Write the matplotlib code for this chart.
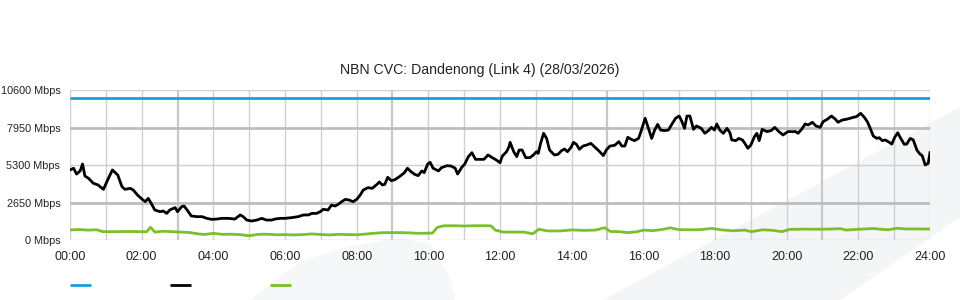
import matplotlib
matplotlib.use("Agg")
import matplotlib.pyplot as plt
from matplotlib.lines import Line2D
from matplotlib.patches import Polygon
import numpy as np

plt.rcParams['font.family'] = ['Liberation Sans', 'DejaVu Sans']

title = "NBN CVC: Dandenong (Link 4) (28/03/2026)"
capacity_mbps = 10000
y_ticks = [0, 2650, 5300, 7950, 10600]
x_tick_hours = list(range(0, 25, 2))
x_tick_labels = ["%02d:00" % h for h in x_tick_hours]

# Traffic (black) - minutes since midnight, Mbps
traffic_min = [0, 6, 11, 17, 21, 25, 31, 39, 47, 56, 63, 71, 80, 87, 92, 101, 106, 113, 121, 126,
               131, 136, 142, 151, 156, 162, 167, 176, 180, 187, 191, 197, 203, 212, 221, 229, 237, 246, 254, 265,
               276, 285, 290, 296, 304, 313, 321, 329, 338, 343, 352, 360, 371, 382, 391, 399, 405, 413, 419, 424,
               432, 438, 444, 449, 455, 461, 467, 474, 480, 486, 491, 499, 506, 514, 518, 523, 527, 532, 538, 544,
               553, 560, 565, 571, 577, 583, 589, 593, 599, 603, 608, 617, 622, 631, 638, 645, 649, 656, 661, 667,
               673, 679, 686, 693, 700, 707, 714, 720, 724, 731, 735, 737, 743, 748, 752, 757, 763, 770, 776, 781,
               784, 788, 793, 798, 803, 811, 817, 823, 828, 833, 839, 843, 848, 853, 859, 865, 872, 879, 887, 893,
               898, 904, 912, 919, 924, 929, 934, 940, 945, 952, 956, 963, 968, 974, 979, 984, 989, 995, 1002, 1007,
               1014, 1020, 1024, 1029, 1033, 1038, 1044, 1049, 1057, 1063, 1069, 1074, 1079, 1083, 1088, 1094, 1100, 1105, 1108, 1115,
               1120, 1126, 1130, 1135, 1140, 1146, 1150, 1154, 1159, 1167, 1174, 1180, 1187, 1194, 1202, 1208, 1215, 1219, 1225, 1231,
               1236, 1243, 1249, 1256, 1261, 1268, 1275, 1281, 1286, 1293, 1300, 1306, 1312, 1317, 1324, 1330, 1335, 1340, 1345, 1351,
               1355, 1360, 1365, 1370, 1376, 1381, 1386, 1391, 1397, 1401, 1407, 1412, 1418, 1423, 1427, 1432, 1437, 1440]
traffic_mbps = [4950, 5070, 4660, 4880, 5370, 4520, 4360, 4010, 3890, 3580, 4240, 4950, 4590, 3770, 3580, 3650, 3530, 3180, 2870, 2710,
                2940, 2590, 2120, 2000, 2050, 1880, 2120, 2290, 2000, 2360, 2400, 2070, 1700, 1650, 1650, 1530, 1460, 1480, 1530, 1530,
                1480, 1770, 1650, 1410, 1340, 1410, 1530, 1410, 1410, 1480, 1530, 1530, 1580, 1650, 1770, 1770, 1880, 1880, 2000, 2170,
                2120, 2470, 2400, 2520, 2710, 2870, 2830, 2710, 2870, 3180, 3530, 3700, 3650, 3930, 4100, 3890, 3930, 4430, 4190, 4260,
                4520, 4760, 5070, 4830, 4640, 4550, 4880, 4760, 5370, 5490, 5070, 4880, 5110, 5250, 5230, 5070, 4660, 5140, 5370, 5890,
                6170, 5700, 5700, 5700, 6010, 5820, 5650, 5460, 5940, 6240, 6590, 6900, 6240, 5890, 6360, 6360, 5820, 5820, 6010, 6240,
                6120, 6830, 7540, 7180, 6360, 6010, 6050, 6310, 6430, 6240, 6550, 6900, 6760, 6410, 6640, 6710, 6830, 6550, 6240, 5960,
                6360, 6640, 6690, 6950, 6640, 6640, 7260, 7110, 7020, 7180, 7660, 8600, 7960, 7180, 7770, 8170, 7770, 7730, 7770, 8130,
                8600, 8760, 8430, 7890, 8760, 8760, 7820, 8060, 7890, 7540, 7730, 7960, 7770, 8200, 7770, 7540, 7890, 7580, 7070, 7020,
                7180, 7070, 6830, 6480, 6710, 7300, 7540, 7020, 7820, 7660, 7730, 7960, 7660, 7420, 7660, 7660, 7660, 7540, 7820, 8200,
                8130, 8320, 8060, 7960, 8360, 8530, 8760, 8560, 8320, 8480, 8530, 8600, 8670, 8720, 8950, 8670, 8360, 7890, 7350, 7180,
                7230, 7020, 7070, 6950, 6780, 7260, 7580, 7180, 6760, 6780, 7180, 7070, 6360, 6080, 5960, 5300, 5420, 6170]

# Secondary (green) - minutes since midnight, Mbps
green_min = [0, 15, 30, 45, 55, 75, 100, 115, 128, 135, 142, 155, 170, 185, 200, 215, 225, 240, 255, 270,
             285, 300, 315, 330, 345, 360, 375, 390, 405, 420, 435, 450, 465, 480, 495, 510, 525, 540, 555, 570,
             585, 597, 607, 615, 625, 640, 660, 680, 695, 705, 712, 725, 760, 765, 775, 785, 800, 820, 840, 860,
             880, 895, 905, 920, 935, 950, 960, 975, 990, 1005, 1020, 1040, 1055, 1075, 1090, 1110, 1130, 1141, 1160, 1175,
             1192, 1205, 1230, 1250, 1270, 1290, 1300, 1320, 1345, 1370, 1385, 1400, 1420, 1440]
green_mbps = [710, 740, 700, 720, 590, 590, 600, 590, 580, 900, 560, 620, 590, 560, 530, 430, 390, 470, 400, 410,
              380, 300, 400, 410, 370, 380, 360, 380, 430, 390, 360, 400, 380, 370, 420, 480, 520, 520, 520, 500,
              470, 480, 490, 890, 1000, 1010, 990, 1010, 1010, 1000, 700, 560, 560, 520, 440, 760, 640, 640, 710, 680,
              700, 870, 600, 590, 520, 590, 700, 660, 730, 860, 730, 720, 730, 820, 720, 650, 700, 590, 720, 690,
              590, 750, 770, 760, 770, 800, 700, 760, 810, 720, 830, 780, 780, 770]

W, H = 960, 300
fig = plt.figure(figsize=(W / 100, H / 100), dpi=100)
fig.patch.set_facecolor('white')

def px(x, y):
    return (x / W, 1 - y / H)

# faint watermark shapes
band = Polygon([px(603, 300), px(960, 107), px(960, 217), px(840, 300)], closed=True,
               transform=fig.transFigure, facecolor='#f4f5f7', edgecolor='none', zorder=0)
blob = Polygon([px(250, 300), px(300, 262), px(350, 246), px(400, 238), px(430, 244), px(450, 278), px(455, 300)],
               closed=True, transform=fig.transFigure, facecolor='#f6f7f9', edgecolor='none', zorder=0)
fig.add_artist(band)
fig.add_artist(blob)

ax = fig.add_axes([70 / W, 1 - 240 / H, 860 / W, 150 / H])
ax.set_facecolor('none')
ax.set_xlim(0, 24)
ax.set_ylim(0, 10600)

# grid
for h in range(0, 25):
    thick = h in (3, 9, 15, 21)
    ax.axvline(h, color='#c8c8c8' if thick else '#d0d0d0', lw=1.6 if thick else 1.0, zorder=1)
for v in y_ticks:
    thick = v in (2650, 7950)
    ax.axhline(v, color='#bdbdbd' if thick else '#cfcfcf', lw=2.0 if thick else 1.0, zorder=1)

for s in ax.spines.values():
    s.set_visible(False)

ax.set_xticks(x_tick_hours)
ax.set_xticklabels(x_tick_labels, fontsize=9, color='#222222')
ax.set_yticks(y_ticks)
ax.set_yticklabels(["%d Mbps" % v for v in y_ticks], fontsize=7.8, color='#222222')
ax.tick_params(axis='both', length=0)
ax.tick_params(axis='x', pad=8)
ax.tick_params(axis='y', pad=7)

hours_t = np.array(traffic_min) / 60.0
hours_g = np.array(green_min) / 60.0
ax.plot([0, 24], [capacity_mbps, capacity_mbps], color='#1a9fe0', lw=2, zorder=3, solid_capstyle='butt')
ax.plot(hours_g, green_mbps, color='#7bbf2a', lw=2, zorder=3)
ax.plot(hours_t, traffic_mbps, color='#000000', lw=2, zorder=4)

fig.text(480 / W, 1 - 70 / H, title, ha='center', va='center', fontsize=10.2, color='#222222')

# legend swatches (no labels)
for x0, c in [(70, '#1a9fe0'), (170, '#000000'), (270, '#7bbf2a')]:
    fig.add_artist(Line2D([x0 / W, (x0 + 21) / W], [1 - 285 / H, 1 - 285 / H],
                          transform=fig.transFigure, color=c, lw=2, solid_capstyle='butt'))

fig.savefig('out.png', dpi=100)
